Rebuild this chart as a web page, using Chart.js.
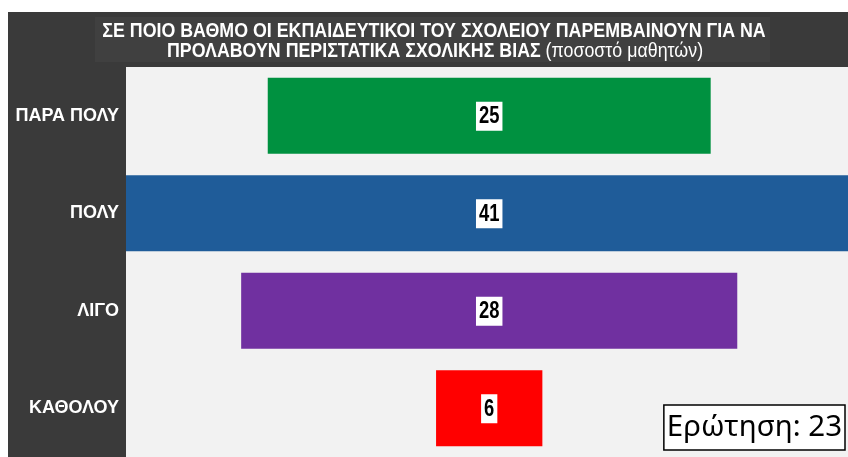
<!DOCTYPE html>
<html lang="el">
<head>
    <meta charset="UTF-8">
    <title>Παρέμβαση εκπαιδευτικών</title>
    <script src="https://cdn.jsdelivr.net/npm/chart.js"></script>
    <style>
        html, body { margin: 0; padding: 0; background: #ffffff; overflow: hidden; }
        #wrap { width: 848px; height: 457px; position: relative; }
    </style>
</head>
<body>
    <div id="wrap"><canvas id="funnelChart" width="848" height="457"></canvas></div>
    <script>
        // Δεδομένα
        const categories = ['ΠΑΡΑ ΠΟΛΥ', 'ΠΟΛΥ', 'ΛΙΓΟ', 'ΚΑΘΟΛΟΥ'];
        const percentages = [25, 41, 28, 6];
        const barColors = ['#009140', '#1f5c99', '#7030a0', '#ff0000'];
        const titleLine1 = 'ΣΕ ΠΟΙΟ ΒΑΘΜΟ ΟΙ ΕΚΠΑΙΔΕΥΤΙΚΟΙ ΤΟΥ ΣΧΟΛΕΙΟΥ ΠΑΡΕΜΒΑΙΝΟΥΝ ΓΙΑ ΝΑ';
        const titleLine2Bold = 'ΠΡΟΛΑΒΟΥΝ ΠΕΡΙΣΤΑΤΙΚΑ ΣΧΟΛΙΚΗΣ ΒΙΑΣ ';
        const titleLine2Normal = '(ποσοστό μαθητών)';
        const questionLabel = 'Ερώτηση: 23';

        const FONT = '"Liberation Sans", Arial, sans-serif';

        // Φόντο: σκούρο πλαίσιο, πλαίσιο τίτλου, γκρι περιοχή γραφήματος
        const backgroundPlugin = {
            id: 'backgroundPlugin',
            beforeDraw(chart) {
                const ctx = chart.ctx;
                const area = chart.chartArea;
                ctx.save();
                ctx.fillStyle = '#3a3a3a';
                ctx.fillRect(8, 12, chart.width - 8, chart.height - 12);
                ctx.fillStyle = '#404040';
                ctx.fillRect(95, 17, 675, 45);
                ctx.fillStyle = '#f2f2f2';
                ctx.fillRect(area.left, area.top, area.right - area.left, area.bottom - area.top);
                ctx.restore();
            }
        };

        // Τίτλος με στενή γραμματοσειρά (έντονο + κανονικό κομμάτι)
        const titlePlugin = {
            id: 'titlePlugin',
            afterDraw(chart) {
                const ctx = chart.ctx;
                ctx.save();
                ctx.fillStyle = '#ffffff';
                ctx.textBaseline = 'alphabetic';
                const sx = 0.89;

                ctx.font = 'bold 20px ' + FONT;
                const w1 = ctx.measureText(titleLine1).width * sx;
                ctx.save();
                ctx.translate(434 - w1 / 2, 37);
                ctx.scale(sx, 1);
                ctx.fillText(titleLine1, 0, 0);
                ctx.restore();

                const wb = ctx.measureText(titleLine2Bold).width * sx;
                ctx.font = '20px ' + FONT;
                const wn = ctx.measureText(titleLine2Normal).width * sx;
                const start = 435 - (wb + wn) / 2;
                ctx.save();
                ctx.translate(start, 57);
                ctx.scale(sx, 1);
                ctx.font = 'bold 20px ' + FONT;
                ctx.fillText(titleLine2Bold, 0, 0);
                ctx.font = '20px ' + FONT;
                ctx.fillText(titleLine2Normal, wb / sx, 0);
                ctx.restore();

                // Πλαίσιο ερώτησης
                ctx.font = '29.5px "Noto Sans", sans-serif';
                const qw = ctx.measureText(questionLabel).width;
                const bx = 845 - qw - 6;
                ctx.fillStyle = '#ffffff';
                ctx.fillRect(bx, 405, qw + 6, 45);
                ctx.strokeStyle = '#000000';
                ctx.lineWidth = 1.5;
                ctx.strokeRect(bx, 405, qw + 6, 45);
                ctx.fillStyle = '#000000';
                ctx.textBaseline = 'middle';
                ctx.fillText(questionLabel, bx + 3, 428);
                ctx.restore();
            }
        };

        // Ετικέτες τιμών σε λευκό κουτάκι
        const valueLabelPlugin = {
            id: 'valueLabelPlugin',
            afterDatasetsDraw(chart) {
                const ctx = chart.ctx;
                const meta = chart.getDatasetMeta(0);
                ctx.save();
                ctx.font = 'bold 23px ' + FONT;
                ctx.textBaseline = 'middle';
                const sx = 0.8;
                const cx = chart.scales.x.getPixelForValue(0);
                meta.data.forEach((bar, i) => {
                    const text = String(percentages[i]);
                    const tw = ctx.measureText(text).width * sx;
                    ctx.fillStyle = '#ffffff';
                    ctx.fillRect(cx - tw / 2 - 3, bar.y - 14, tw + 6, 29);
                    ctx.fillStyle = '#000000';
                    ctx.save();
                    ctx.translate(cx - tw / 2, bar.y + 1);
                    ctx.scale(sx, 1);
                    ctx.fillText(text, 0, 0);
                    ctx.restore();
                });
                ctx.restore();
            }
        };

        const ctx = document.getElementById('funnelChart').getContext('2d');
        new Chart(ctx, {
            type: 'bar',
            data: {
                labels: categories,
                datasets: [{
                    data: percentages.map(v => [-v / 2, v / 2]),
                    backgroundColor: barColors,
                    borderWidth: 0,
                    categoryPercentage: 1,
                    barPercentage: 0.78
                }]
            },
            options: {
                indexAxis: 'y',
                responsive: false,
                animation: false,
                layout: { padding: { top: 67, left: 0, right: 0, bottom: 0 } },
                plugins: {
                    legend: { display: false },
                    tooltip: { enabled: false },
                    title: { display: false }
                },
                scales: {
                    x: {
                        display: false,
                        min: -20.5,
                        max: 20.25
                    },
                    y: {
                        grid: { display: false, drawTicks: false },
                        border: { display: false },
                        ticks: {
                            color: '#ffffff',
                            padding: 7,
                            font: { family: FONT, size: 18, weight: 'bold' }
                        },
                        afterFit(scale) {
                            scale.width = 126;
                            scale.paddingTop = 0;
                            scale.paddingBottom = 0;
                        }
                    }
                }
            },
            plugins: [backgroundPlugin, valueLabelPlugin, titlePlugin]
        });
    </script>
</body>
</html>
